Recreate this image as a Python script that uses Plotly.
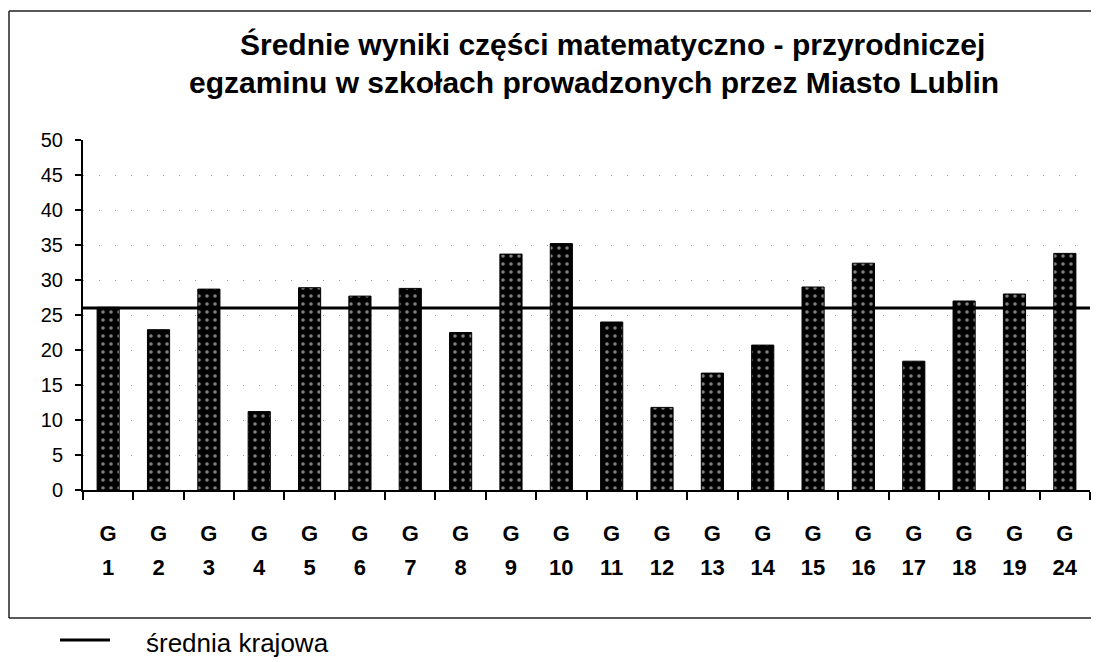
import plotly.graph_objects as go

# ---------------- data ----------------
school_numbers = ["1", "2", "3", "4", "5", "6", "7", "8", "9", "10",
                  "11", "12", "13", "14", "15", "16", "17", "18", "19", "24"]
school_prefix = "G"
wyniki = [26.1, 22.9, 28.7, 11.2, 28.9, 27.7, 28.8, 22.5, 33.7, 35.2,
          24.0, 11.8, 16.7, 20.7, 29.0, 32.4, 18.4, 27.0, 28.0, 33.8]
srednia_krajowa = 26.0
y_ticks = [0, 5, 10, 15, 20, 25, 30, 35, 40, 45, 50]
title_lines = ["Średnie wyniki części matematyczno - przyrodniczej",
               "egzaminu w szkołach prowadzonych przez Miasto Lublin"]
legend_label = "średnia krajowa"

categories = [f"{school_prefix}{n}" for n in school_numbers]
positions = list(range(len(categories)))

# ---------------- layout geometry (pixels of the 1099x662 window) ----------------
OFF = 8                      # page body margin
W, H = 1099 - OFF, 662 - OFF
L = 83 - OFF                 # y axis at x=83
T = 140 - OFF                # value 50 at y=140
R = W - (1090 - OFF)         # plot ends at x=1090
B = H - (490 - OFF)          # value 0 at y=490
PW, PH = W - L - R, H - T - B


def px(x):
    return (x - OFF - L) / PW


def py(y):
    return (H - B - (y - OFF)) / PH


FONT = "Liberation Sans, Arial, sans-serif"

fig = go.Figure()
fig.add_trace(go.Bar(
    x=categories, y=wyniki,
    marker=dict(color="black", line=dict(color="black", width=1),
                pattern=dict(shape=".", fgcolor="white", bgcolor="black",
                             size=8, solidity=0.16)),
    showlegend=False, hoverinfo="x+y",
))
# invisible companion trace so that the second (number) label axis is drawn
fig.add_trace(go.Scatter(
    x=positions, y=wyniki, xaxis="x2", mode="markers",
    marker=dict(opacity=0), showlegend=False, hoverinfo="skip",
))

fig.add_hline(y=srednia_krajowa, line=dict(color="black", width=3))

fig.update_layout(
    width=W, height=H,
    margin=dict(l=L, r=R, t=T, b=B),
    paper_bgcolor="white", plot_bgcolor="white",
    bargap=0.56,
    font=dict(family=FONT, color="black"),
    xaxis=dict(type="category", categoryorder="array", categoryarray=categories,
               range=[-0.5, len(categories) - 0.5],
               tickmode="array", tickvals=categories,
               ticktext=[school_prefix] * len(categories),
               tickson="boundaries", ticks="outside", ticklen=8, tickwidth=1.5,
               tickcolor="black", showline=True, linecolor="black", linewidth=2,
               showgrid=False, ticklabelstandoff=23,
               tickfont=dict(size=22, family=FONT, color="black", weight="bold")),
    xaxis2=dict(overlaying="x", anchor="y", side="bottom",
                range=[-0.5, len(categories) - 0.5],
                tickmode="array", tickvals=positions,
                ticktext=school_numbers, ticks="", showline=False,
                showgrid=False, zeroline=False, ticklabelstandoff=62,
                tickfont=dict(size=22, family=FONT, color="black", weight="bold")),
    yaxis=dict(range=[0, 50], tickmode="array", tickvals=y_ticks,
               ticks="outside", ticklen=6, tickwidth=1.5, tickcolor="black",
               showline=True, linecolor="black", linewidth=2,
               showgrid=True, gridcolor="#999", gridwidth=1, griddash="1px,15px",
               zeroline=False, ticklabelstandoff=8,
               tickfont=dict(size=20, family=FONT, color="black")),
)

# title (two centred lines)
for text, cx, cy in zip(title_lines, [612, 594], [44, 82]):
    fig.add_annotation(text=f"<b>{text}</b>", xref="paper", yref="paper",
                       x=px(cx), y=py(cy), xanchor="center", yanchor="middle",
                       showarrow=False,
                       font=dict(size=30, family=FONT, color="black"))

# outer frame
frame = dict(type="line", xref="paper", yref="paper",
             line=dict(color="#222", width=1.5))
fig.add_shape(**frame, x0=px(9), x1=px(9), y0=py(11), y1=py(618))
fig.add_shape(**frame, x0=px(9), x1=px(1099), y0=py(11), y1=py(11))
fig.add_shape(**frame, x0=px(9), x1=px(1099), y0=py(618), y1=py(618))

# legend
fig.add_shape(type="line", xref="paper", yref="paper",
              x0=px(60), x1=px(110), y0=py(640), y1=py(640),
              line=dict(color="black", width=3))
fig.add_annotation(text=legend_label, xref="paper", yref="paper",
                   x=px(144), y=py(643), xanchor="left", yanchor="middle",
                   showarrow=False, font=dict(size=26, family=FONT, color="black"))

fig.write_html("out.html")
